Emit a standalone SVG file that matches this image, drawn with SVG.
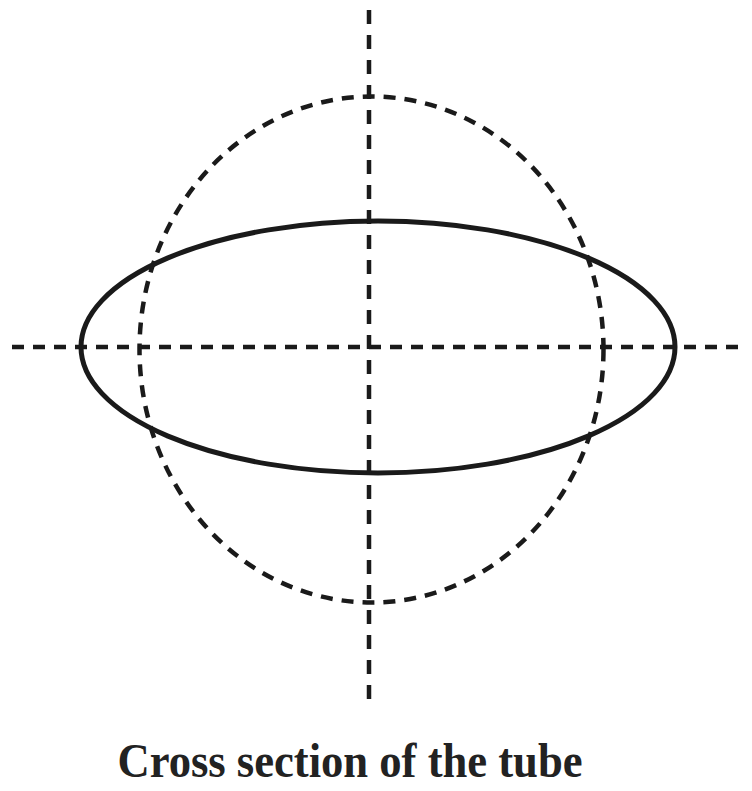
<svg xmlns="http://www.w3.org/2000/svg" width="752" height="791" viewBox="0 0 752 791">
<style>
.dash{fill:none;stroke:#1a1a1a;stroke-width:4.5;stroke-dasharray:12 9}
.solid{fill:none;stroke:#1a1a1a;stroke-width:5}
.label{font-family:"Liberation Serif","Times New Roman",serif;font-weight:bold;fill:#222}
</style>
<rect width="752" height="791" fill="#fff"/>
<g id="circle"><ellipse class="dash" cx="371.5" cy="349.5" rx="232" ry="253"/></g>
<g id="tube"><ellipse class="solid" cx="378" cy="347" rx="297" ry="126"/></g>
<g id="axes">
<line class="dash" x1="12" y1="347" x2="745" y2="347"/>
<line class="dash" x1="369" y1="10" x2="369" y2="705" style="stroke-dasharray:14 11"/>
</g>
<text class="label" x="350" y="777" font-size="48" text-anchor="middle" textLength="465" lengthAdjust="spacingAndGlyphs">Cross section of the tube</text>
</svg>
